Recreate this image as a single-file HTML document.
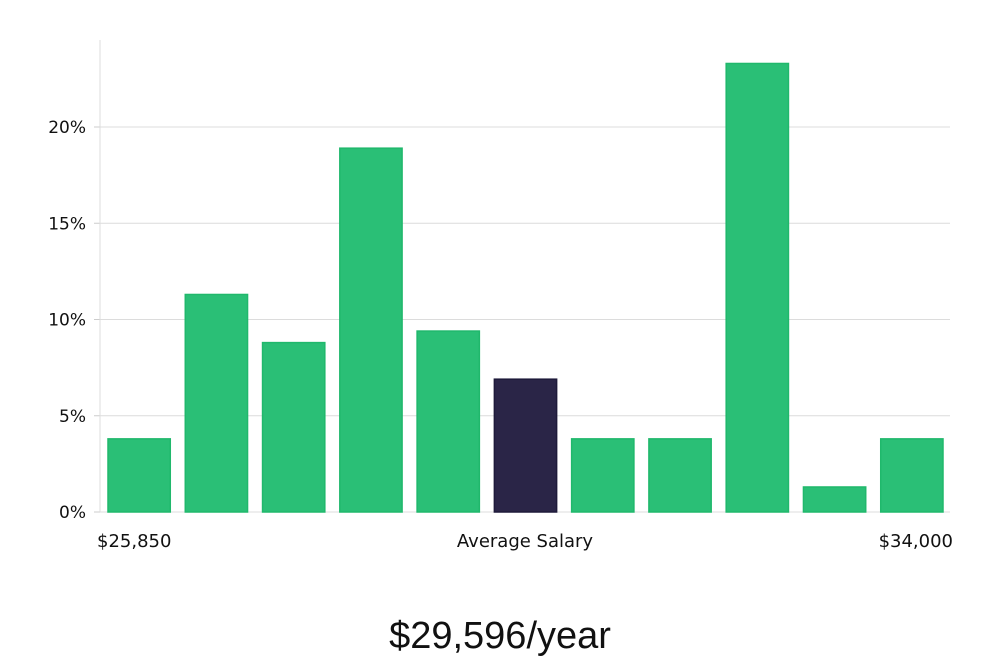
<!DOCTYPE html>
<html><head><meta charset="utf-8"><style>
body{margin:0;background:#fff;width:1000px;height:660px;overflow:hidden;font-family:"DejaVu Sans","Liberation Sans",sans-serif}
</style></head><body>
<svg id="chart" width="1000" height="660" xmlns="http://www.w3.org/2000/svg"></svg>
<script>
const categories=["b1","b2","b3","b4","b5","b6","b7","b8","b9","b10","b11"];
const values=[3.8,11.3,8.8,18.9,9.4,6.9,3.8,3.8,23.3,1.3,3.8];
const highlight=[0,0,0,0,0,1,0,0,0,0,0];
const yTicks=[0,5,10,15,20];
const yTickLabels=["0%","5%","10%","15%","20%"];
const xLabels=["$25,850","Average Salary","$34,000"];
const title="$29,596/year";

const svg=document.getElementById('chart');
const NS="http://www.w3.org/2000/svg";
const L=100,R=950,T=40,B=512;
const y=v=>B-v*(B-127)/20;
const step=(R-L)/categories.length;
const x=i=>L+i*step;
function mk(t,a,txt){const e=document.createElementNS(NS,t);for(const k in a)e.setAttribute(k,a[k]);if(txt!=null)e.textContent=txt;svg.appendChild(e);return e;}

yTicks.forEach((t,i)=>{
  if(t>0){const g=mk('line',{x1:L,x2:R,y1:y(t),y2:y(t),stroke:'#dcdcdc','stroke-width':1});
  
  }
  const tk=mk('line',{x1:L-6,x2:L,y1:y(t),y2:y(t),stroke:'#ccc'});
  
  
  const lb=mk('text',{x:L-14,y:y(t)+6,'text-anchor':'end','font-size':17,fill:'#111'},yTickLabels[i]);
  
  
});
const ax=mk('line',{x1:L,x2:L,y1:T,y2:B,stroke:'#ddd'});


const bx=mk('line',{x1:L,x2:R,y1:B,y2:B,stroke:'#ddd'});



values.forEach((v,i)=>{
  const hl=highlight[i];
  const r=mk('rect',{x:x(i)+8,y:y(v),width:step-15,height:B-y(v),fill:hl?'#2a2547':'#2abf76',stroke:hl?'#1e1a3a':'#20b86c','stroke-width':1.5});
  
  
});

const xl=[[97,'start'],[525,'middle'],[953,'end']];
xLabels.forEach((s,i)=>{
  const t=mk('text',{x:xl[i][0],y:547,'text-anchor':xl[i][1],'font-size':18,fill:'#111'},s);
  
  
});
const tt=mk('text',{x:500,y:648,'text-anchor':'middle','font-size':38,fill:'#111','font-family':'Liberation Sans, sans-serif'},title);


</script>
</body></html>
